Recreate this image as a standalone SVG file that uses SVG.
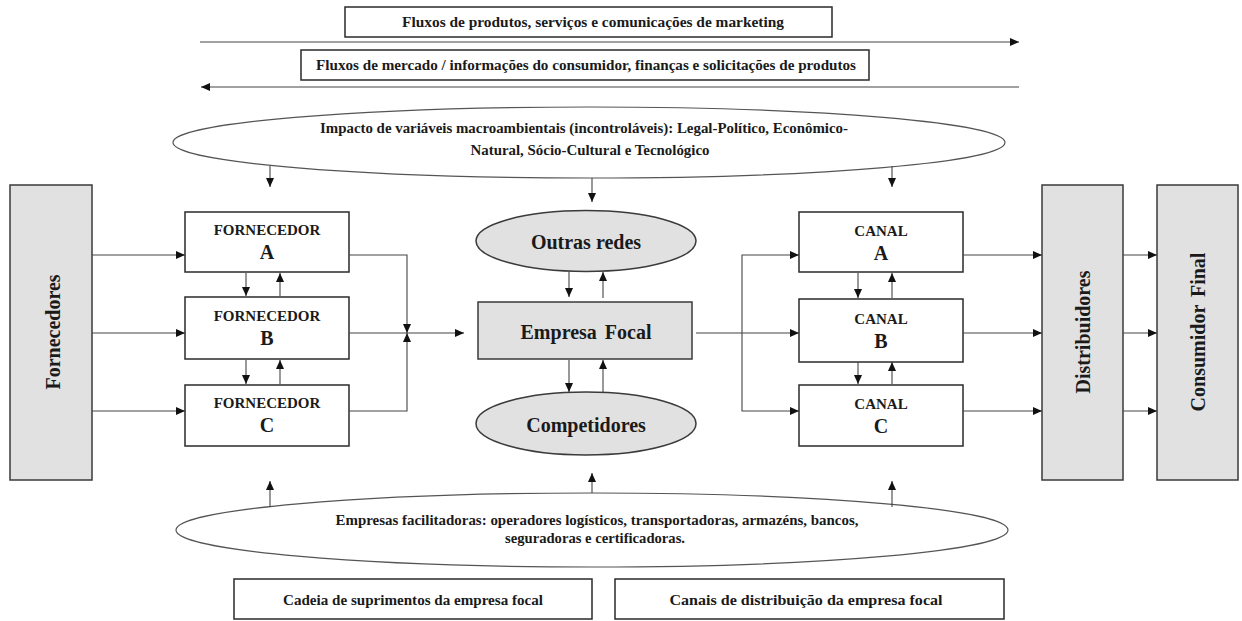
<svg xmlns="http://www.w3.org/2000/svg" width="1242" height="621" viewBox="0 0 1242 621">
<style>
text{font-family:"Liberation Serif","Times New Roman",serif;font-weight:bold;fill:#1a1a1a;text-anchor:middle;dominant-baseline:central}
.box{fill:#fff;stroke:#2a2a2a;stroke-width:1.5}
.gray{fill:#e1e1e1;stroke:#3a3a3a;stroke-width:1.5}
.ell{fill:#fff;stroke:#555;stroke-width:1.2}
.conn{fill:none;stroke:#444;stroke-width:1.1}
.arr{marker-end:url(#ah)}
.s14{font-size:14px}
.s15{font-size:15px}
.s20{font-size:20px}
</style>
<defs>
<marker id="ah" markerUnits="userSpaceOnUse" markerWidth="9" markerHeight="8" refX="9" refY="4" orient="auto">
<path d="M0,0 L9,4 L0,8 z" fill="#111"/>
</marker>
</defs>

<g id="top-box-1"><rect class="box" x="345" y="7" width="487" height="30"/><text class="s14" x="593" y="22" textLength="382" lengthAdjust="spacingAndGlyphs">Fluxos de produtos, serviços e comunicações de marketing</text></g>
<g id="top-box-2"><rect class="box" x="301" y="50" width="568" height="30"/><text class="s14" x="586" y="65" textLength="540" lengthAdjust="spacingAndGlyphs">Fluxos de mercado / informações do consumidor, finanças e solicitações de produtos</text></g>

<g id="macro"><ellipse class="ell" cx="589" cy="142.5" rx="416" ry="35.5"/>
<text class="s14" x="584" y="128" textLength="528" lengthAdjust="spacingAndGlyphs">Impacto de variáveis macroambientais (incontroláveis): Legal-Político, Econômico-</text>
<text class="s14" x="590" y="150" textLength="239" lengthAdjust="spacingAndGlyphs">Natural, Sócio-Cultural e Tecnológico</text></g>

<g id="fornecedores"><rect class="gray" x="10" y="185" width="82" height="295"/><text class="s20" transform="translate(53,332) rotate(-90)">Fornecedores</text></g>
<g id="fornecedor-a"><rect class="box" x="185" y="212" width="164" height="60"/><text class="s15" x="267" y="230">FORNECEDOR</text><text class="s20" x="267" y="252">A</text></g>
<g id="fornecedor-b"><rect class="box" x="185" y="297" width="164" height="62"/><text class="s15" x="267" y="316">FORNECEDOR</text><text class="s20" x="267" y="338">B</text></g>
<g id="fornecedor-c"><rect class="box" x="185" y="385" width="164" height="61"/><text class="s15" x="267" y="403">FORNECEDOR</text><text class="s20" x="267" y="425">C</text></g>

<g id="outras-redes"><ellipse class="gray" cx="586" cy="241" rx="110" ry="30.5"/><text class="s20" x="586" y="242">Outras redes</text></g>
<g id="empresa-focal"><rect class="gray" x="478" y="302" width="214" height="57"/><text class="s20" x="586" y="332" word-spacing="3">Empresa Focal</text></g>
<g id="competidores"><ellipse class="gray" cx="586" cy="423.5" rx="110" ry="31.5"/><text class="s20" x="586" y="425">Competidores</text></g>

<g id="canal-a"><rect class="box" x="799" y="212" width="164" height="60"/><text class="s15" x="881" y="231">CANAL</text><text class="s20" x="881" y="253">A</text></g>
<g id="canal-b"><rect class="box" x="799" y="299" width="164" height="63"/><text class="s15" x="881" y="319">CANAL</text><text class="s20" x="881" y="341">B</text></g>
<g id="canal-c"><rect class="box" x="799" y="385" width="164" height="61"/><text class="s15" x="881" y="404">CANAL</text><text class="s20" x="881" y="426">C</text></g>

<g id="distribuidores"><rect class="gray" x="1042" y="185" width="81" height="295"/><text class="s20" transform="translate(1083,332) rotate(-90)">Distribuidores</text></g>
<g id="consumidor-final"><rect class="gray" x="1157" y="185" width="81" height="295"/><text class="s20" transform="translate(1198,332) rotate(-90)" word-spacing="3">Consumidor Final</text></g>

<g id="facilitadoras"><ellipse class="ell" cx="592" cy="530" rx="416" ry="37"/>
<text class="s14" x="597" y="520" textLength="523" lengthAdjust="spacingAndGlyphs">Empresas facilitadoras: operadores logísticos, transportadoras, armazéns, bancos,</text>
<text class="s14" x="595" y="538" textLength="180" lengthAdjust="spacingAndGlyphs">seguradoras e certificadoras.</text></g>

<g id="cadeia"><rect class="box" x="234" y="579" width="358" height="40"/><text class="s14" x="413" y="600" textLength="260" lengthAdjust="spacingAndGlyphs">Cadeia de suprimentos da empresa focal</text></g>
<g id="canais"><rect class="box" x="615" y="579" width="389" height="40"/><text class="s14" x="806" y="600" textLength="273" lengthAdjust="spacingAndGlyphs">Canais de distribuição da empresa focal</text></g>

<g id="connectors">
<path class="conn arr" d="M200,42 H1019"/>
<path class="conn arr" d="M1019,87 H201"/>
<path class="conn arr" d="M270,166 V187"/>
<path class="conn arr" d="M592,178 V202"/>
<path class="conn arr" d="M892,166 V187"/>
<path class="conn arr" d="M92,255 H185"/>
<path class="conn arr" d="M92,333 H185"/>
<path class="conn arr" d="M92,411 H185"/>
<path class="conn arr" d="M246,273 V296"/>
<path class="conn arr" d="M280,296 V273"/>
<path class="conn arr" d="M246,360 V384"/>
<path class="conn arr" d="M280,384 V360"/>
<path class="conn arr" d="M349,255 H407 V333"/>
<path class="conn arr" d="M349,411 H407 V333"/>
<path class="conn arr" d="M349,333 H464"/>
<path class="conn arr" d="M569,272 V297"/>
<path class="conn arr" d="M603,298 V272"/>
<path class="conn arr" d="M569,360 V392"/>
<path class="conn arr" d="M603,392 V360"/>
<path class="conn arr" d="M696,333 H799"/>
<path class="conn arr" d="M742,333 V255 H799"/>
<path class="conn arr" d="M742,333 V411 H799"/>
<path class="conn arr" d="M858,273 V298"/>
<path class="conn arr" d="M892,298 V273"/>
<path class="conn arr" d="M858,362 V384"/>
<path class="conn arr" d="M892,384 V362"/>
<path class="conn arr" d="M963,255 H1042"/>
<path class="conn arr" d="M963,333 H1042"/>
<path class="conn arr" d="M963,411 H1042"/>
<path class="conn arr" d="M1123,255 H1157"/>
<path class="conn arr" d="M1123,333 H1157"/>
<path class="conn arr" d="M1123,411 H1157"/>
<path class="conn arr" d="M270,507 V481"/>
<path class="conn arr" d="M592,493 V473"/>
<path class="conn arr" d="M892,507 V481"/>
</g>
</svg>
